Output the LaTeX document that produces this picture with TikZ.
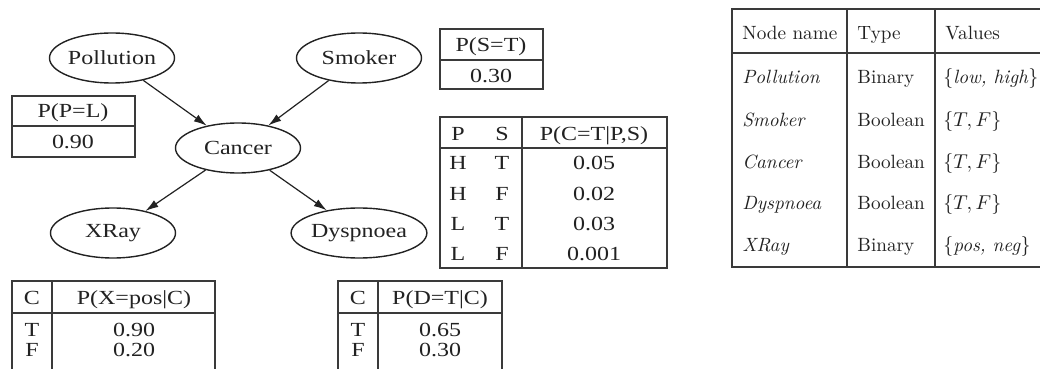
\documentclass[tikz,border=0pt]{standalone}
\usepackage{fontspec}
\newfontfamily\tms[FakeStretch=1.2]{Liberation Serif}
\usetikzlibrary{shapes.geometric,arrows.meta}
\definecolor{ink}{HTML}{222222}
\definecolor{rule}{HTML}{3A3A3A}
\tikzset{
  var/.style={ellipse, draw=ink, line width=0.7pt, minimum width=62.5pt, minimum height=25pt, inner sep=0pt,
    font=\tms\fontsize{10}{12}\selectfont, text=ink},
  edge/.style={draw=ink, line width=0.6pt, -{Latex[length=6.5pt,width=4pt]}},
  tbl/.style={draw=rule, line width=0.8pt},
  tx/.style={font=\tms\fontsize{10}{12}\selectfont, inner sep=0pt, anchor=base, text=ink},
  rt/.style={font=\fontsize{9.6}{12}\selectfont, inner sep=0pt, anchor=base west, text=ink},
}
\begin{document}
\begin{tikzpicture}[x=0.5pt,y=-0.5pt]
\useasboundingbox (0,0) rectangle (1040,369);
\fill[white] (0,0) rectangle (1040,369);

% network
\node[var] (pol) at (112,58) {Pollution};
\node[var] (smk) at (359,58) {Smoker};
\node[var] (can) at (238,148) {Cancer};
\node[var] (xr)  at (113,233) {XRay};
\node[var] (dys) at (359,233) {Dyspnoea};
\draw[edge] (pol) -- (can);
\draw[edge] (smk) -- (can);
\draw[edge] (can) -- (xr);
\draw[edge] (can) -- (dys);

% prior of Pollution
\draw[tbl] (12,96) rectangle (135,157);
\draw[tbl] (12,126) -- (135,126);
\node[tx] (pph) at (73,117.5) {P(P=L)};
\node[tx] (ppv) at (73,148.5) {0.90};

% prior of Smoker
\draw[tbl] (440,29) rectangle (543,89);
\draw[tbl] (440,60) -- (543,60);
\node[tx] (psh) at (491,51.5) {P(S=T)};
\node[tx] (psv) at (491,82.5) {0.30};

% CPT of Cancer
\draw[tbl] (440,117) rectangle (667,268);
\draw[tbl] (440,148) -- (667,148);
\draw[tbl] (522,117) -- (522,268);
\node[tx] (cp) at (458,140.5) {P};
\node[tx] (cs) at (502,140.5) {S};
\node[tx] (cv) at (594,140.5) {P(C=T|P,S)};
\foreach \p/\s/\v [count=\i] in {H/T/0.05, H/F/0.02, L/T/0.03, L/F/0.001} {
  \pgfmathsetmacro\yy{163+(\i-1)*30.5+6.5}
  \node[tx] (cp\i) at (458,\yy) {\p};
  \node[tx] (cs\i) at (502,\yy) {\s};
  \node[tx] (cv\i) at (594,\yy) {\v};
}

% CPT of XRay
\draw[tbl] (12,372) -- (12,281) -- (215,281) -- (215,372);
\draw[tbl] (12,313) -- (215,313);
\draw[tbl] (52,281) -- (52,372);
\node[tx] (xc) at (32,304.5) {C};
\node[tx] (xh) at (134,304.5) {P(X=pos|C)};
\node[tx] (xt) at (32,336.5) {T};
\node[tx] (xtv) at (134,336.5) {0.90};
\node[tx] (xf) at (32,356.5) {F};
\node[tx] (xfv) at (134,356.5) {0.20};

% CPT of Dyspnoea
\draw[tbl] (338,372) -- (338,281) -- (502,281) -- (502,372);
\draw[tbl] (338,313) -- (502,313);
\draw[tbl] (378,281) -- (378,372);
\node[tx] (dc) at (358,304.5) {C};
\node[tx] (dh) at (440,304.5) {P(D=T|C)};
\node[tx] (dt) at (358,336.5) {T};
\node[tx] (dtv) at (440,336.5) {0.65};
\node[tx] (df) at (358,356.5) {F};
\node[tx] (dfv) at (440,356.5) {0.30};

% variable summary
\draw[tbl] (1042,9) -- (732,9) -- (732,267) -- (1042,267);
\draw[tbl] (732,53) -- (1042,53);
\draw[tbl] (847,9) -- (847,267);
\draw[tbl] (935,9) -- (935,267);
\node[rt] (h1) at (742,39.5) {Node name};
\node[rt] (h2) at (857,39.5) {Type};
\node[rt] (h3) at (945,39.5) {Values};
\foreach \n/\t/\v/\y [count=\i] in {
  Pollution/Binary/{$\{$\textit{low, high}$\}$}/77,
  Smoker/Boolean/{$\{T, F\}$}/120,
  Cancer/Boolean/{$\{T, F\}$}/162,
  Dyspnoea/Boolean/{$\{T, F\}$}/203,
  XRay/Binary/{$\{$\textit{pos, neg}$\}$}/245} {
  \node[rt] (n\i) at (742,\y+6.5) {\itshape \n};
  \node[rt] (t\i) at (857,\y+6.5) {\t};
  \node[rt] (v\i) at (943,\y+6.5) {\v};
}
\end{tikzpicture}
\end{document}
